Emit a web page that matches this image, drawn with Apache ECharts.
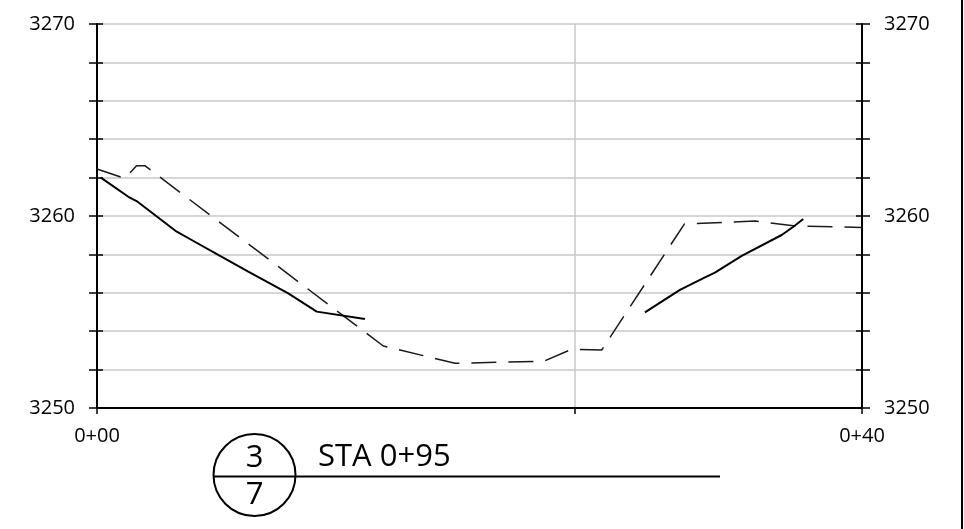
<!DOCTYPE html>
<html>
<head>
<meta charset="utf-8">
<script src="https://cdn.jsdelivr.net/npm/echarts@6/dist/echarts.min.js"></script>
<style>
html,body{margin:0;padding:0;background:#fff;}
#chart{width:964px;height:529px;}
</style>
</head>
<body>
<div id="chart"></div>
<script>
// Existing ground (solid) – left bank
var groundLeftX = [0.2, 1.64, 2.07, 4.17, 4.95, 6.34, 7.91, 10.0, 11.49, 14.01];
var groundLeftY = [3262.0, 3261.0, 3260.78, 3259.18, 3258.75, 3257.97, 3257.1, 3255.97, 3255.02, 3254.64];
// Existing ground (solid) – right bank
var groundRightX = [28.65, 30.48, 31.79, 32.31, 33.71, 35.8, 36.41, 36.93];
var groundRightY = [3254.98, 3256.15, 3256.8, 3257.05, 3257.92, 3259.01, 3259.44, 3259.84];
// Dashed profile
var dashedX = [0, 1.46, 2.07, 2.5, 14.97, 18.72, 23.34, 24.82, 26.39, 30.71, 34.4, 36.41, 40];
var dashedY = [3262.45, 3261.96, 3262.62, 3262.62, 3253.23, 3252.33, 3252.43, 3253.06, 3253.02, 3259.58, 3259.74, 3259.49, 3259.4];
// Axis settings / labels
var xMin = 0, xMax = 40, xInterval = 25;
var xTickLabels = {0: '0+00', 40: '0+40'};
var yMin = 3250, yMax = 3270, yInterval = 2, yLabelStep = 10;
var titleText = 'STA 0+95';
var sheetTop = '3', sheetBottom = '7';

function pairs(xs, ys){ return xs.map(function(x,i){ return [x, ys[i]]; }); }

var FONT = '"Open Sans", sans-serif';
var chart = echarts.init(document.getElementById('chart'), null, {renderer:'canvas'});

function yAxisBase(pos, inside, main){
  return {
    type:'value', position:pos, min:yMin, max:yMax, interval:yInterval,
    axisLine:{show:main, lineStyle:{color:'#000', width:2}},
    axisTick:{show:true, inside:inside, length:inside?6:8, lineStyle:{color:'#000', width:1.5}},
    axisLabel:{show:main, margin:22, color:'#000', fontSize:20, fontFamily:FONT,
      formatter:function(v){ return (Math.round(v - yMin) % yLabelStep === 0) ? String(v) : ''; }},
    splitLine:{show:main && pos==='left', lineStyle:{color:'#c8c8c8', width:1.5}}
  };
}

var option = {
  animation:false,
  backgroundColor:'#fff',
  grid:{left:97, right:102, top:24, bottom:121, containLabel:false},
  xAxis:{
    type:'value', min:xMin, max:xMax, interval:xInterval,
    axisLine:{lineStyle:{color:'#000', width:2}},
    axisTick:{show:true, length:6, lineStyle:{color:'#000', width:1.5}},
    axisLabel:{margin:18, color:'#000', fontSize:20, fontFamily:FONT, showMinLabel:true, showMaxLabel:true,
      formatter:function(v){ return xTickLabels[v] || ''; }},
    splitLine:{show:true, lineStyle:{color:'#c8c8c8', width:1.5}}
  },
  yAxis:[
    yAxisBase('left', false, true),
    yAxisBase('right', false, true),
    yAxisBase('left', true, false),
    yAxisBase('right', true, false)
  ],
  series:[
    {type:'line', data:pairs(dashedX, dashedY), symbol:'none', yAxisIndex:0,
     lineStyle:{color:'#1a1a1a', width:1.5, type:[25,12]}, z:3},
    {type:'line', data:pairs(groundLeftX, groundLeftY), symbol:'none', yAxisIndex:0,
     lineStyle:{color:'#000', width:2}, z:4},
    {type:'line', data:pairs(groundRightX, groundRightY), symbol:'none', yAxisIndex:0,
     lineStyle:{color:'#000', width:2}, z:4}
  ],
  graphic:[
    {type:'line', shape:{x1:962, y1:0, x2:962, y2:529}, style:{stroke:'#000', lineWidth:2}},
    {type:'circle', shape:{cx:254.5, cy:475, r:41}, style:{stroke:'#000', lineWidth:2, fill:'none'}},
    {type:'line', shape:{x1:214, y1:476.5, x2:720, y2:476.5}, style:{stroke:'#000', lineWidth:2}},
    {type:'text', x:254.5, y:458, style:{text:sheetTop, fontSize:31, fontFamily:FONT, fill:'#000', textAlign:'center', textVerticalAlign:'middle'}},
    {type:'text', x:254.5, y:495, style:{text:sheetBottom, fontSize:31, fontFamily:FONT, fill:'#000', textAlign:'center', textVerticalAlign:'middle'}},
    {type:'text', x:318, y:457, style:{text:titleText, fontSize:31, fontFamily:FONT, fill:'#000', textAlign:'left', textVerticalAlign:'middle'}}
  ]
};
chart.setOption(option);
</script>
</body>
</html>
